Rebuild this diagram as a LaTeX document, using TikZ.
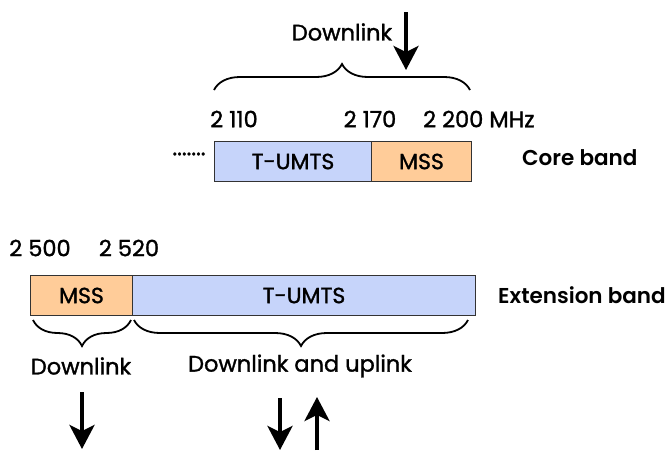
\documentclass[tikz,border=0pt]{standalone}
\usepackage{fontspec}
\setmainfont{Poppins}[BoldFont=* SemiBold]
\newfontfamily\labelfont{Poppins}[FakeBold=1.3]
\usetikzlibrary{decorations.pathreplacing,arrows.meta}
\definecolor{umts}{HTML}{C6D4FA}
\definecolor{mss}{HTML}{FFCC99}
\begin{document}
\begin{tikzpicture}[x=1pt,y=-1pt,
  band/.style={draw=black!80, line width=1pt, inner sep=0pt, minimum height=40pt, anchor=north west, font=\labelfont\fontsize{22}{24}\selectfont},
  lbl/.style={font=\labelfont\fontsize{22.5}{24}\selectfont, inner sep=0pt},
  ttl/.style={font=\fontsize{21.5}{24}\selectfont\bfseries, inner sep=0pt, anchor=west},
  brc/.style={decorate, decoration={brace, amplitude=26pt, aspect=0.5}, line width=1.8pt},
  arr/.style={line width=3.6pt, -{Stealth[length=24pt,width=25pt,inset=6pt]}}]
\useasboundingbox (0,0) rectangle (672,450);
% core band
\node[band, fill=umts, minimum width=157pt] (cu) at (214,141) {T-UMTS};
\node[band, fill=mss, minimum width=100pt] (cm) at (371,141) {MSS};
\node[lbl] (dots) at (189,154) {.......};
\node[lbl] (f2110) at (234,119) {2 110};
\node[lbl] (f2170) at (370,119) {2 170};
\node[lbl, anchor=west] (f2200) at (423,119) {2 200 MHz};
\node[ttl] (core) at (522,158) {Core band};
\coordinate (tl) at (214,90);
\coordinate (tr) at (470,90);
\draw[brc] (tl) -- (tr);
\node[lbl] (dl1) at (342,32) {Downlink};
\coordinate (a1s) at (406,12);
\coordinate (a1e) at (406,70);
\draw[arr] (a1s) -- (a1e);
% extension band
\node[band, fill=mss, minimum width=102pt] (em) at (30,275) {MSS};
\node[band, fill=umts, minimum width=343pt] (eu) at (132,275) {T-UMTS};
\node[lbl] (f2500) at (40,248) {2 500};
\node[lbl] (f2520) at (129,248) {2 520};
\node[ttl] (ext) at (498,295) {Extension band};
\coordinate (b1l) at (33,320);
\coordinate (b1r) at (131,320);
\coordinate (b2l) at (134,320);
\coordinate (b2r) at (468,320);
\draw[brc, decoration={brace, mirror, amplitude=26pt}] (b1l) -- (b1r);
\draw[brc, decoration={brace, mirror, amplitude=26pt}] (b2l) -- (b2r);
\node[lbl] (dl2) at (81,366) {Downlink};
\node[lbl] (dlul) at (300,366) {Downlink and uplink};
\coordinate (a2s) at (82,392);
\coordinate (a2e) at (82,449);
\draw[arr] (a2s) -- (a2e);
\coordinate (a3s) at (280,398);
\coordinate (a3e) at (280,450);
\draw[arr] (a3s) -- (a3e);
\coordinate (a4s) at (317,450);
\coordinate (a4e) at (317,397);
\draw[arr] (a4s) -- (a4e);
\end{tikzpicture}
\end{document}
